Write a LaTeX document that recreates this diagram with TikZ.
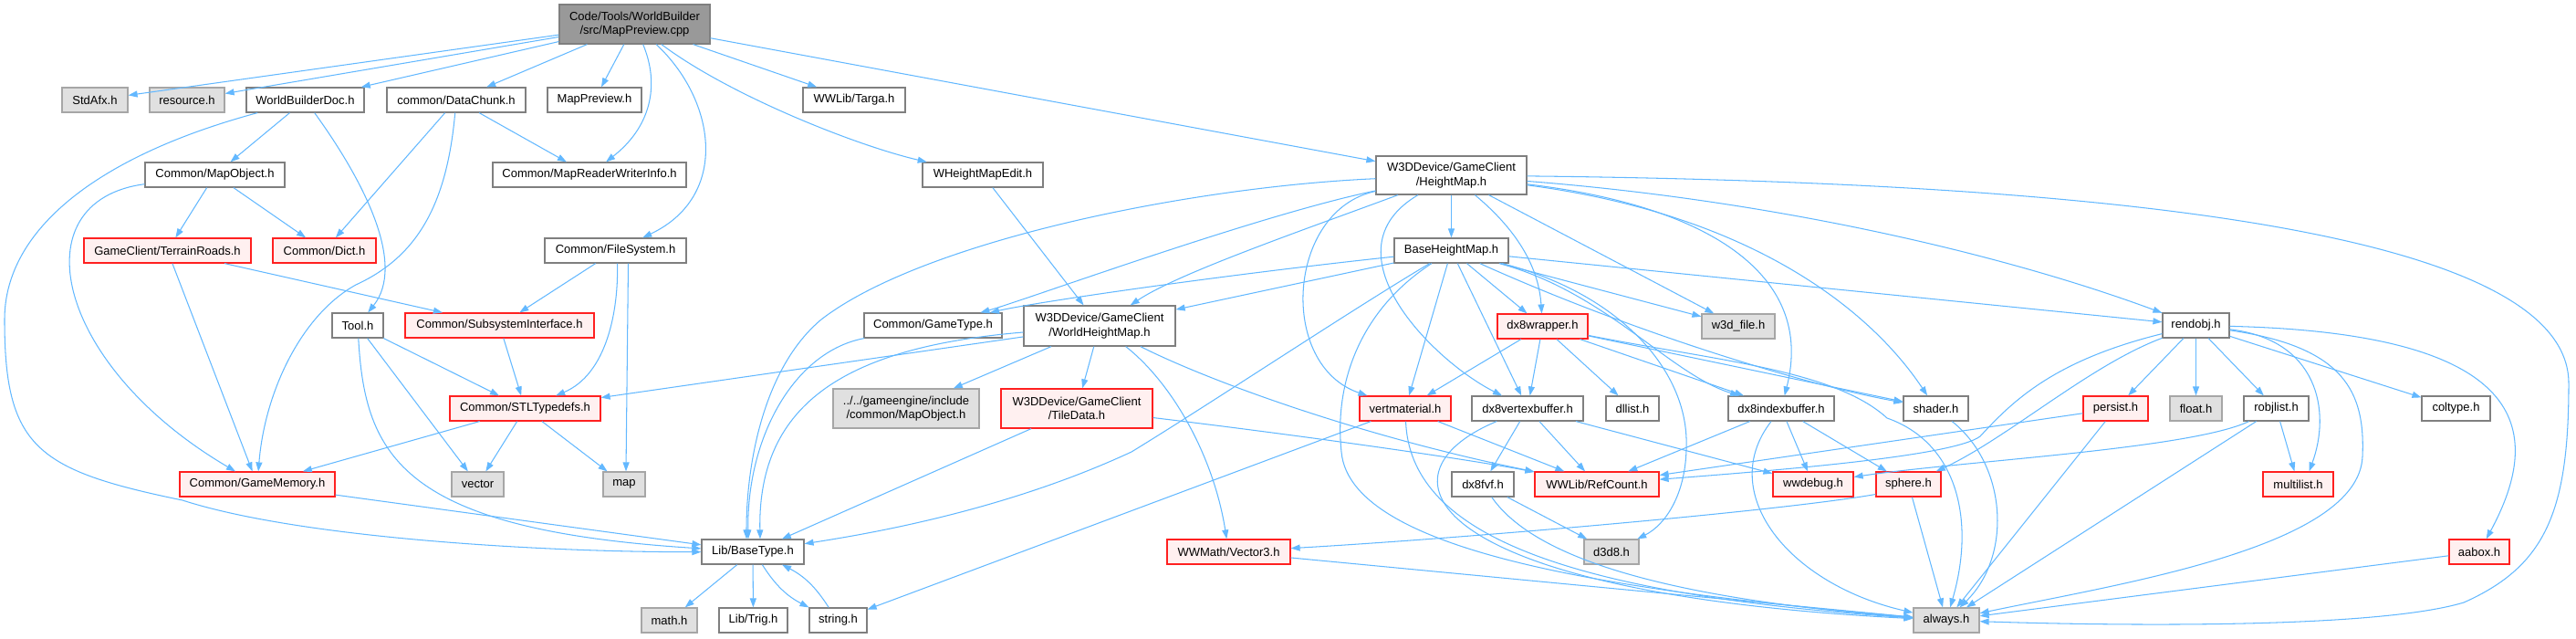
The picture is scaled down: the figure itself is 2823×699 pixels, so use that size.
\documentclass[tikz,border=0pt]{standalone}
\usepackage{fontspec}
\setmainfont{Liberation Sans}
\usetikzlibrary{arrows.meta}

\definecolor{inclblue}{HTML}{63B8FF}
\definecolor{docline}{HTML}{7F7F7F}
\definecolor{rootfill}{HTML}{999999}
\definecolor{extline}{HTML}{A6A6A6}
\definecolor{extfill}{HTML}{E0E0E0}
\definecolor{cutline}{HTML}{FF2020}
\definecolor{cutfill}{HTML}{FFF0F0}

\tikzset{
  hfile/.style={draw=docline, fill=white, line width=1.2pt, inner sep=0pt,
    minimum height=27pt, align=center, font=\fontsize{13}{15.5}\selectfont},
  hroot/.style={hfile, fill=rootfill},
  hext/.style={hfile, draw=extline, fill=extfill},
  hcut/.style={hfile, draw=cutline, fill=cutfill},
  incl/.style={draw=inclblue, line width=1.05pt, -{Triangle[length=10pt,width=7pt]}},
}

\begin{document}
\begin{tikzpicture}[x=1pt,y=-1pt]
\useasboundingbox (0,0) rectangle (2823,699);

%% ---------------- headers ----------------
\node[hroot, minimum width=165pt, minimum height=43pt] (root) at (695.5,26.5)
  {Code/Tools/WorldBuilder\\/src/MapPreview.cpp};

\foreach \nm/\px/\py/\bw/\bh/\txt in {
  wbdoc/334.5/109.5/129/27/{WorldBuilderDoc.h},
  datachunk/500/109.5/152/27/{common/DataChunk.h},
  mappreview/651.5/109.5/103/27/{MapPreview.h},
  targa/936/109.5/112/27/{WWLib/Targa.h},
  mapobject/235.5/191.5/153/27/{Common/MapObject.h},
  mrwinfo/646/191.5/212/27/{Common/MapReaderWriterInfo.h},
  hmedit/1077/191.5/132/27/{WHeightMapEdit.h},
  heightmap/1590.5/192/165/42/{W3DDevice/GameClient\\/HeightMap.h},
  filesystem/674.5/274.5/155/27/{Common/FileSystem.h},
  baseheightmap/1590.5/274.5/125/27/{BaseHeightMap.h},
  tool/392/356.5/56/27/{Tool.h},
  gametype/1022.5/356.5/151/27/{Common/GameType.h},
  worldhm/1205/357/166/44/{W3DDevice/GameClient\\/WorldHeightMap.h},
  rendobj/2406.5/356.5/73/27/{rendobj.h},
  dx8vb/1674/447.5/122/27/{dx8vertexbuffer.h},
  dllist/1789/447.5/58/27/{dllist.h},
  dx8ib/1952/447.5/116/27/{dx8indexbuffer.h},
  shader/2121.5/447.5/71/27/{shader.h},
  robjlist/2494.5/447.5/71/27/{robjlist.h},
  coltype/2691.5/447.5/75/27/{coltype.h},
  dx8fvf/1625/530.5/68/27/{dx8fvf.h},
  basetype/825/604.5/112/27/{Lib/BaseType.h},
  trig/825.5/679.5/75/27/{Lib/Trig.h},
  stringh/918.5/679.5/63/27/{string.h}}
  \node[hfile, minimum width=\bw pt, minimum height=\bh pt] (\nm) at (\px,\py) {\txt};

\foreach \nm/\px/\py/\bw/\bh/\txt in {
  stdafx/104/109.5/72/27/{StdAfx.h},
  resource/205/109.5/82/27/{resource.h},
  w3dfile/1905/357.5/80/27/{w3d\_file.h},
  gemapobject/993/447.5/160/43/{../../gameengine/include\\/common/MapObject.h},
  floath/2406.5/447.5/57/27/{float.h},
  vector/523.5/530.5/57/27/{vector},
  map/684/530.5/46/27/{map},
  d3d8/1766/604.5/60/27/{d3d8.h},
  mathh/733.5/679.5/61/27/{math.h},
  always/2133/679.5/72/27/{always.h}}
  \node[hext, minimum width=\bw pt, minimum height=\bh pt] (\nm) at (\px,\py) {\txt};

\foreach \nm/\px/\py/\bw/\bh/\txt in {
  terrainroads/183.5/274.5/183/27/{GameClient/TerrainRoads.h},
  dict/355.5/274.5/113/27/{Common/Dict.h},
  subsys/547.5/356.5/207/27/{Common/SubsystemInterface.h},
  dx8wrapper/1690.5/357.5/99/27/{dx8wrapper.h},
  stltypedefs/575.5/447.5/165/27/{Common/STLTypedefs.h},
  tiledata/1180/447.5/166/43/{W3DDevice/GameClient\\/TileData.h},
  vertmaterial/1540/447.5/100/27/{vertmaterial.h},
  persist/2318.5/447.5/71/27/{persist.h},
  gamememory/282/530.5/170/27/{Common/GameMemory.h},
  refcount/1750/530.5/136/27/{WWLib/RefCount.h},
  wwdebug/1987/530.5/88/27/{wwdebug.h},
  sphere/2091.5/530.5/71/27/{sphere.h},
  multilist/2518.5/530.5/77/27/{multilist.h},
  vector3/1346.5/604.5/135/27/{WWMath/Vector3.h},
  aabox/2717/604.5/66/27/{aabox.h}}
  \node[hcut, minimum width=\bw pt, minimum height=\bh pt] (\nm) at (\px,\py) {\txt};

%% ---------------- straight includes ----------------
\foreach \a/\b in {root/stdafx, root/resource, root/wbdoc, root/datachunk,
  root/mappreview, root/targa, root/heightmap,
  wbdoc/mapobject, datachunk/dict, datachunk/mrwinfo,
  mapobject/terrainroads, mapobject/dict,
  terrainroads/subsys, terrainroads/gamememory,
  filesystem/subsys, subsys/stltypedefs, tool/stltypedefs, tool/vector,
  stltypedefs/gamememory, stltypedefs/vector, stltypedefs/map,
  gamememory/basetype, basetype/mathh, basetype/trig,
  hmedit/worldhm, heightmap/baseheightmap, heightmap/w3dfile,
  baseheightmap/worldhm, baseheightmap/vertmaterial, baseheightmap/dx8vb,
  baseheightmap/dx8wrapper, baseheightmap/w3dfile, baseheightmap/rendobj,
  worldhm/stltypedefs, worldhm/gemapobject, worldhm/tiledata, tiledata/basetype,
  vertmaterial/stringh, vertmaterial/refcount,
  dx8wrapper/vertmaterial, dx8wrapper/dx8vb, dx8wrapper/dllist,
  dx8wrapper/dx8ib, dx8wrapper/shader,
  dx8vb/dx8fvf, dx8vb/refcount, dx8vb/wwdebug, dx8fvf/d3d8,
  dx8ib/refcount, dx8ib/wwdebug, dx8ib/sphere, sphere/always,
  persist/refcount, persist/always,
  rendobj/persist, rendobj/floath, rendobj/robjlist, rendobj/coltype,
  robjlist/multilist, robjlist/always, aabox/always, vector3/always}
  \draw[incl] (\a) -- (\b);

%% ---------------- left part ----------------
\draw[incl] (root) .. controls (724,95) and (712,140) .. (mrwinfo);
\draw[incl] (root) .. controls (785,110) and (800,215) .. (filesystem);
\draw[incl] (root) .. controls (800,105) and (940,160) .. (hmedit);
\draw[incl] (wbdoc) .. controls (110,170) and (5,250) .. (5,350)
  .. controls (5,490) and (40,515) .. (200,548)
  .. controls (330,590) and (600,605) .. (basetype);
\draw[incl] (wbdoc) .. controls (400,200) and (445,290) .. (tool);
\draw[incl] (datachunk) .. controls (490,220) and (460,280) .. (390,312)
  .. controls (330,345) and (290,430) .. (gamememory);
\draw[incl] (mapobject) .. controls (20,220) and (60,400) .. (gamememory);
\draw[incl] ([xshift=2pt]filesystem.south) .. controls (678,340) and (665,410) .. (stltypedefs);
\draw[incl] ([xshift=14pt]filesystem.south) -- ([xshift=2pt]map.north);
\draw[incl] (tool) .. controls (400,500) and (440,580) .. (basetype);
\draw[incl] (basetype) to[bend right=15] (stringh);
\draw[incl] (stringh) to[bend right=15] (basetype);

%% ---------------- HeightMap ----------------
\draw[incl] (heightmap) .. controls (1300,205) and (1010,265) .. (900,350)
  .. controls (840,400) and (818,500) .. ([xshift=-7pt]basetype.north);
\draw[incl] (heightmap) .. controls (1380,235) and (1120,330) .. (gametype);
\draw[incl] (heightmap) .. controls (1420,255) and (1290,300) .. (worldhm);
\draw[incl] (heightmap) .. controls (1410,230) and (1400,400) .. (vertmaterial);
\draw[incl] (heightmap) .. controls (1450,275) and (1570,395) .. (dx8vb);
\draw[incl] (heightmap) .. controls (1660,250) and (1686,290) .. (dx8wrapper);
\draw[incl] (heightmap) .. controls (1870,225) and (1990,300) .. (dx8ib);
\draw[incl] (heightmap) .. controls (1920,235) and (2050,340) .. (shader);
\draw[incl] (heightmap) .. controls (1950,220) and (2200,280) .. (rendobj);
\draw[incl] (heightmap) .. controls (2350,200) and (2815,260) .. (2815,420)
  .. controls (2815,560) and (2790,620) .. (2700,660)
  .. controls (2600,690) and (2300,685) .. (always);

%% ---------------- BaseHeightMap ----------------
\draw[incl] (baseheightmap) .. controls (1350,300) and (1140,330) .. (gametype);
\draw[incl] (baseheightmap) .. controls (1480,340) and (1330,440) .. (1240,495)
  .. controls (1100,560) and (950,585) .. (basetype);
\draw[incl] (baseheightmap) .. controls (1760,320) and (1830,410) .. (dx8ib);
\draw[incl] (baseheightmap) .. controls (1780,360) and (1970,420) .. (shader);
\draw[incl] (baseheightmap) .. controls (1770,320) and (1845,400) .. (1848,480)
  .. controls (1850,540) and (1825,575) .. (d3d8);
\draw[incl] (baseheightmap) .. controls (1490,340) and (1462,420) .. (1470,495)
  .. controls (1480,610) and (1800,650) .. (always);

%% ---------------- WorldHeightMap, TileData, GameType ----------------
\draw[incl] (worldhm) .. controls (1285,420) and (1330,500) .. (vector3);
\draw[incl] (worldhm) .. controls (1330,420) and (1500,480) .. (refcount);
\draw[incl] (worldhm) .. controls (930,380) and (830,440) .. ([xshift=8pt]basetype.north);
\draw[incl] (gametype) .. controls (870,385) and (818,480) .. ([xshift=-5pt]basetype.north);
\draw[incl] (tiledata) .. controls (1450,480) and (1620,505) .. (refcount);

%% ---------------- dx8 family ----------------
\draw[incl] (vertmaterial) .. controls (1545,580) and (1700,650) .. (always);
\draw[incl] (dx8wrapper) .. controls (1880,395) and (2010,405) .. (2068,458)
  .. controls (2145,485) and (2165,570) .. (always);
\draw[incl] (dx8vb) .. controls (1500,520) and (1560,650) .. (always);
\draw[incl] (dx8fvf) .. controls (1680,610) and (1820,655) .. (always);
\draw[incl] (dx8ib) .. controls (1880,540) and (1960,640) .. (always);
\draw[incl] (shader) .. controls (2200,510) and (2205,610) .. (always);
\draw[incl] ([yshift=-11pt]sphere.west) .. controls (1950,560) and (1600,590) .. (vector3);

%% ---------------- rendobj ----------------
\draw[incl] (rendobj) .. controls (2250,395) and (2205,440) .. (2170,478)
  .. controls (2140,500) and (1950,515) .. (refcount);
\draw[incl] (rendobj) .. controls (2290,400) and (2200,480) .. (sphere);
\draw[incl] (rendobj) .. controls (2540,372) and (2555,450) .. ([xshift=12pt]multilist.north);
\draw[incl] (rendobj) .. controls (2570,380) and (2592,430) .. (2589,500)
  .. controls (2585,600) and (2320,640) .. (always);
\draw[incl] (rendobj) .. controls (2770,365) and (2790,470) .. (aabox);
\draw[incl] (robjlist) .. controls (2400,492) and (2150,505) .. ([yshift=8pt]wwdebug.east);

\end{tikzpicture}
\end{document}
